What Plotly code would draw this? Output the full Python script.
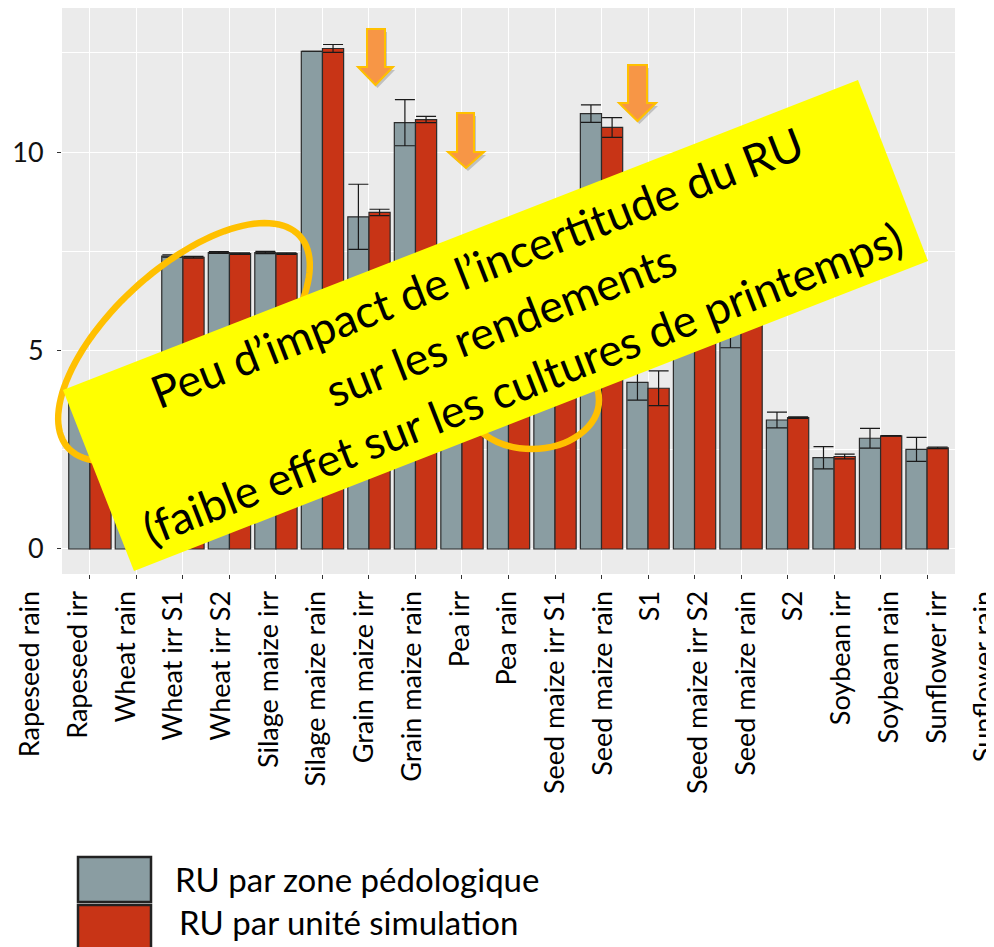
import numpy as np
import plotly.graph_objects as go

# the page body adds an 8px margin, so the figure is drawn at (8, 8)
OFF = 8
W, H = 994 - OFF, 947 - OFF
FONT = "Lato"

# one group of bars per position on the axis
groups = list(range(19))
zone_vals = [3.85, 3.6, 7.38, 7.47, 7.47, 12.54, 8.37, 10.74, 5.0, 4.6, 6.4, 10.97, 4.2, 7.0, 5.5, 3.25, 2.3, 2.79, 2.51]
zone_err = [0.1, 0.1, 0.03, 0.02, 0.03, 0.0, 0.82, 0.58, 0.2, 0.2, 0.2, 0.22, 0.45, 0.2, 0.43, 0.2, 0.28, 0.25, 0.3]
unit_vals = [3.7, 3.5, 7.35, 7.44, 7.44, 12.61, 8.48, 10.82, 5.1, 4.7, 6.5, 10.62, 4.05, 7.2, 6.1, 3.31, 2.33, 2.85, 2.55]
unit_err = [0.05, 0.05, 0.02, 0.02, 0.02, 0.1, 0.08, 0.08, 0.1, 0.1, 0.1, 0.25, 0.44, 0.1, 0.1, 0.02, 0.06, 0.01, 0.02]

# labels pasted under the chart (they do not line up with the bars)
x_labels = ["Rapeseed rain", "Rapeseed irr", "Wheat rain", "Wheat irr S1", "Wheat irr S2",
            "Silage maize irr", "Silage maize rain", "Grain maize irr", "Grain maize rain",
            "Pea irr", "Pea rain", "Seed maize irr S1", "Seed maize rain", "S1",
            "Seed maize irr S2", "Seed maize rain", "S2", "Soybean irr", "Soybean rain",
            "Sunflower irr", "Sunflower rain"]

box_lines = ["Peu d’impact de l’incertitude du RU",
             "sur les rendements",
             "(faible effet sur les cultures de printemps)"]
legend_names = ["RU par zone pédologique", "RU par unité simulation"]

GREY = "#8A9DA2"
RED = "#C83416"


# page pixel -> paper coordinate
def px(x):
    return (x - OFF) / W


def py(y):
    return 1 - (y - OFF) / H


def poly(points):
    return "M " + " L ".join(f"{px(x):.5f},{py(y):.5f}" for x, y in points) + " Z"


def arrow(xs0, xs1, top, head_y, xh0, xh1, tip_y):
    xm = (xh0 + xh1) / 2
    return poly([(xs0, top), (xs1, top), (xs1, head_y), (xh1, head_y), (xm, tip_y),
                 (xh0, head_y), (xs0, head_y)])


err_style = dict(type="data", visible=True, color="#1a1a1a", thickness=1.2, width=10)
bar_line = dict(color="#2b2b2b", width=1.2)

fig = go.Figure()
fig.add_trace(go.Bar(x=groups, y=zone_vals, name=legend_names[0], marker=dict(color=GREY, line=bar_line),
                     error_y=dict(array=zone_err, **err_style)))
fig.add_trace(go.Bar(x=groups, y=unit_vals, name=legend_names[1], marker=dict(color=RED, line=bar_line),
                     error_y=dict(array=unit_err, **err_style)))
# invisible trace carrying the label axis
fig.add_trace(go.Scatter(x=[0, len(x_labels) - 1], y=[0, 0], xaxis="x2", yaxis="y2", mode="markers",
                         marker=dict(opacity=0), hoverinfo="skip", showlegend=False))

shapes = []
# panel background
shapes.append(dict(type="rect", xref="x domain", yref="y domain", x0=0, x1=1, y0=0, y1=1,
                   fillcolor="#EBEBEB", line=dict(width=0), layer="below"))

# ellipses
t = np.linspace(0, 2 * np.pi, 120)
phi = np.radians(42.5)
ex = 184 + 157 * np.cos(t) * np.cos(phi) + 73 * np.sin(t) * np.sin(phi)
ey = 342 - 157 * np.cos(t) * np.sin(phi) + 73 * np.sin(t) * np.cos(phi)
shapes.append(dict(type="path", xref="paper", yref="paper", path=poly(zip(ex, ey)),
                   line=dict(color="#FFC000", width=6.5)))
shapes.append(dict(type="circle", xref="paper", yref="paper", x0=px(465), x1=px(599), y0=py(449), y1=py(351),
                   line=dict(color="#FFC000", width=6.5)))

# yellow banner
shapes.append(dict(type="path", xref="paper", yref="paper",
                   path=poly([(63, 390), (858, 80), (928, 261), (134, 571)]),
                   fillcolor="#FFFF00", line=dict(width=0)))

# orange arrows (with soft shadow)
arrows = [(367, 385, 29, 67, 358, 393, 85),
          (457, 474, 113, 152, 448, 484, 168),
          (628, 647, 65, 103, 619, 656, 121)]
for a in arrows:
    sh = (a[0] + 2, a[1] + 2, a[2] + 3, a[3] + 3, a[4] + 2, a[5] + 2, a[6] + 3)
    shapes.append(dict(type="path", xref="paper", yref="paper", path=arrow(*sh),
                       fillcolor="rgba(0,0,0,0.18)", line=dict(width=0)))
    shapes.append(dict(type="path", xref="paper", yref="paper", path=arrow(*a),
                       fillcolor="#F79646", line=dict(color="#FFC000", width=2)))

# legend swatches
shapes.append(dict(type="rect", xref="paper", yref="paper", x0=px(78), x1=px(151), y0=py(902), y1=py(857),
                   fillcolor=GREY, line=dict(color="#222", width=2.5)))
shapes.append(dict(type="rect", xref="paper", yref="paper", x0=px(78), x1=px(151), y0=py(952), y1=py(905),
                   fillcolor=RED, line=dict(color="#222", width=2.5)))

annotations = []
ang = 21.3
nx, ny = np.sin(np.radians(ang)), np.cos(np.radians(ang))
for i, line in enumerate(box_lines):
    cx = 500 + (i - 1) * 62 * nx
    cy = 325 + (i - 1) * 62 * ny
    annotations.append(dict(x=px(cx), y=py(cy), xref="paper", yref="paper", text=line, showarrow=False,
                            textangle=-ang, xanchor="center", yanchor="middle",
                            font=dict(family=FONT, size=45, color="black")))
annotations.append(dict(x=px(173), y=py(879), xref="paper", yref="paper", text=legend_names[0],
                        showarrow=False, xanchor="left", yanchor="middle",
                        font=dict(family=FONT, size=33, color="black")))
annotations.append(dict(x=px(177), y=py(922), xref="paper", yref="paper", text=legend_names[1],
                        showarrow=False, xanchor="left", yanchor="middle",
                        font=dict(family=FONT, size=33, color="black")))

fig.update_layout(
    width=W, height=H,
    margin=dict(l=0, r=0, t=0, b=0),
    paper_bgcolor="white",
    plot_bgcolor="rgba(0,0,0,0)",
    template="none",
    showlegend=False,
    barmode="group",
    bargap=0.09,
    bargroupgap=0,
    font=dict(family=FONT, color="black"),
    xaxis=dict(domain=[px(62), px(955)], range=[-0.6, 18.6], tick0=0, dtick=1,
               showticklabels=False, ticks="outside", ticklen=4, tickcolor="#333", tickwidth=1,
               showgrid=True, gridcolor="white", gridwidth=1.3, zeroline=False, showline=False),
    yaxis=dict(domain=[py(574), 1], range=[-0.63, 13.63], tick0=0, dtick=5,
               ticks="outside", ticklen=4, tickcolor="#333", tickwidth=1,
               tickfont=dict(family=FONT, size=27, color="#111"), ticklabelstandoff=8,
               showgrid=True, gridcolor="white", gridwidth=1.3, zeroline=False, showline=False,
               minor=dict(dtick=2.5, showgrid=True, gridcolor="white", gridwidth=0.6)),
    xaxis2=dict(domain=[0, 1], anchor="y2", range=[(OFF - 30.5) / 47.7, (994 - 30.5) / 47.7],
                tickmode="array", tickvals=list(range(len(x_labels))), ticktext=x_labels,
                tickangle=-90, ticks="", showgrid=False, zeroline=False, showline=False,
                ticklabeloverflow="allow",
                tickfont=dict(family=FONT, size=27, color="black")),
    yaxis2=dict(domain=[py(584.5), py(584)], visible=False, range=[-1, 1]),
    shapes=shapes,
    annotations=annotations,
)

fig.write_html("out.html")
